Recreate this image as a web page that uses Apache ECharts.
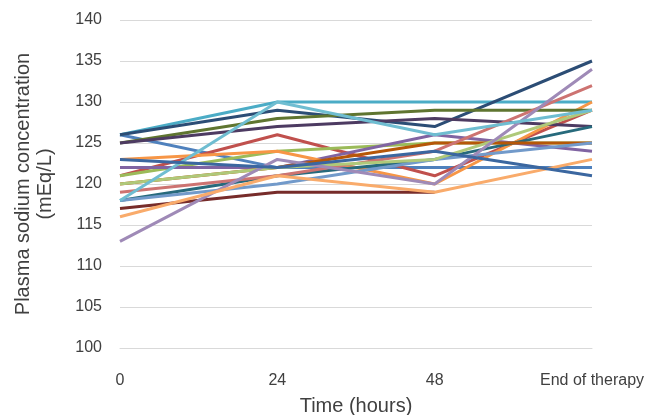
<!DOCTYPE html>
<html>
<head>
<meta charset="utf-8">
<script src="https://cdn.jsdelivr.net/npm/echarts@6/dist/echarts.min.js"></script>
<style>
  html, body { margin: 0; padding: 0; background: #fff; }
  #chart { width: 654px; height: 415px; }
</style>
</head>
<body>
<div id="chart"></div>
<script>
// time points on the x axis
var timePoints = ['0', '24', '48', 'End of therapy'];

// one array per patient: sodium (mEq/L) at 0, 24, 48 h and end of therapy
var patient1 = [126, 122, 122, 122];
var patient2 = [121, 126, 121, 129];
var patient3 = [121, 124, 125, 125];
var patient4 = [122, 122, 126, 124];
var patient5 = [126, 130, 130, 130];
var patient6 = [123, 124, 120, 130];
var patient7 = [126, 129, 127, 135];
var patient8 = [117, 119, 119, null];
var patient9 = [125, 128, 129, 129];
var patient10 = [125, 127, 128, 127];
var patient11 = [118, 121, 123, 127];
var patient12 = [120, 122, 125, 125];
var patient13 = [118, 120, 123, 125];
var patient14 = [119, 121, 124, 132];
var patient15 = [120, 122, 123, 129];
var patient16 = [113, 123, 120, 134];
var patient17 = [118, 130, 126, 129];
var patient18 = [116, 121, 119, 123];
var patient19 = [123, 122, 124, 121];

var allPatients = [patient1, patient2, patient3, patient4, patient5, patient6,
  patient7, patient8, patient9, patient10, patient11, patient12, patient13,
  patient14, patient15, patient16, patient17, patient18, patient19];

// excel-like palette
var colors = ['#4F81BD', '#C0504D', '#9BBB59', '#8064A2', '#4BACC6', '#F79646',
  '#2C4D75', '#772C2A', '#5F7530', '#4D3B62', '#276A7C', '#B65708',
  '#729ACA', '#CD7371', '#AFC97A', '#9F8AB7', '#6FBDD1', '#F9AB6B', '#3B67A0'];

var series = [];
for (var i = 0; i < allPatients.length; i++) {
  series.push({
    name: 'Patient ' + (i + 1),
    type: 'line',
    data: allPatients[i],
    symbol: 'none',
    smooth: false,
    lineStyle: { width: 3, color: colors[i] },
    itemStyle: { color: colors[i] }
  });
}

var textColor = '#404040';
var font = 'Liberation Sans';

var option = {
  backgroundColor: '#ffffff',
  animation: false,
  legend: { show: false },
  tooltip: { show: false },
  grid: { left: 120, right: 62, top: 20, bottom: 67, outerBoundsMode: 'none', containLabel: false },
  xAxis: {
    type: 'category',
    data: timePoints,
    boundaryGap: false,
    name: 'Time (hours)',
    nameLocation: 'middle',
    nameGap: 48,
    nameTextStyle: { color: textColor, fontSize: 20, fontFamily: font },
    axisLine: { show: true, lineStyle: { color: '#d9d9d9', width: 1 } },
    axisTick: { show: false },
    axisLabel: { color: textColor, fontSize: 16, fontFamily: font, margin: 25 },
    splitLine: { show: false }
  },
  yAxis: {
    type: 'value',
    min: 100,
    max: 140,
    interval: 5,
    name: 'Plasma sodium concentration\n(mEq/L)',
    nameLocation: 'middle',
    nameRotate: 90,
    nameGap: 64,
    nameTextStyle: { color: textColor, fontSize: 20, fontFamily: font, lineHeight: 22 },
    axisLine: { show: false },
    axisTick: { show: false },
    axisLabel: { color: textColor, fontSize: 16, fontFamily: font, margin: 18 },
    splitLine: { show: true, lineStyle: { color: '#d9d9d9', width: 1 } }
  },
  series: series
};

var chart = echarts.init(document.getElementById('chart'));
chart.setOption(option);
</script>
</body>
</html>
